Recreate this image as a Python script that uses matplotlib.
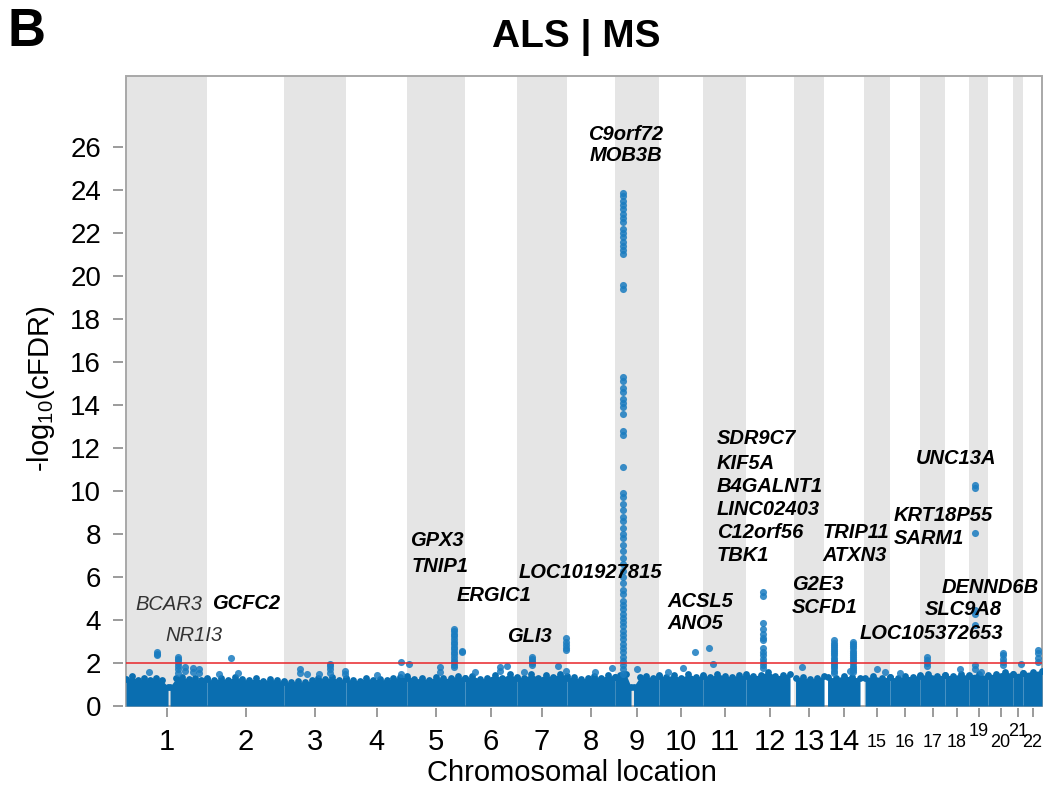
import numpy as np
import matplotlib
matplotlib.use("Agg")
import matplotlib.pyplot as plt
from matplotlib.patches import Rectangle

plt.rcParams['font.family'] = ['Liberation Sans', 'DejaVu Sans']
plt.rcParams['mathtext.fontset'] = 'custom'
plt.rcParams['mathtext.rm'] = 'Liberation Sans'

# chromosome spans on the plotting scale
chrom_names = [str(i) for i in range(1, 23)]
chrom_len = [81, 77, 62, 61, 58, 52, 50, 48, 44, 44, 43, 48, 30, 40, 26, 30, 25, 24, 19, 25, 10, 19]

# upper edge of the dense background cloud: (chrom, start, end, heights)
bg_segments = [
    (1, 0, 42, [1.25, 1.38, 1.2, 1.3, 1.22, 1.32, 1.2, 0.9]),
    (1, 44, 81, [0.9, 1.3, 1.35, 1.25, 1.3, 1.2, 1.3]),
    (2, 0, 77, [1.25, 1.2, 1.3, 1.22, 1.35, 1.25, 1.2, 1.28, 1.18, 1.25, 1.2, 1.15]),
    (3, 0, 62, [1.1, 1.12, 1.15, 1.1, 1.2, 1.3, 1.25, 1.35, 1.2, 1.3]),
    (4, 0, 61, [1.25, 1.2, 1.18, 1.3, 1.22, 1.25, 1.2, 1.28, 1.35, 1.3]),
    (5, 0, 58, [1.4, 1.25, 1.3, 1.22, 1.35, 1.28, 1.3, 1.4, 1.3]),
    (6, 0, 52, [1.3, 1.4, 1.25, 1.3, 1.45, 1.3, 1.5, 1.3]),
    (7, 0, 50, [1.35, 1.3, 1.5, 1.3, 1.45, 1.35, 1.5, 1.4]),
    (8, 0, 48, [1.3, 1.35, 1.25, 1.3, 1.4, 1.3, 1.45, 1.35]),
    (9, 0, 16, [1.35, 1.45, 1.5, 0.9]),
    (9, 18.5, 44, [0.9, 1.35, 1.4, 1.3, 1.45]),
    (10, 0, 44, [1.4, 1.35, 1.45, 1.3, 1.5, 1.35, 1.4]),
    (11, 0, 43, [1.45, 1.35, 1.5, 1.4, 1.35, 1.45, 1.4]),
    (12, 0, 44, [1.5, 1.4, 1.45, 1.6, 1.4, 1.45, 1.5]),
    (13, 1.5, 30, [1.3, 1.35, 1.25, 1.3, 1.4]),
    (14, 3.5, 36, [1.35, 1.3, 1.4, 1.35, 1.3]),
    (15, 1, 26, [1.3, 1.4, 1.3, 1.35]),
    (16, 0, 30, [1.35, 1.3, 1.4, 1.35, 1.45]),
    (17, 0, 25, [1.4, 1.5, 1.4, 1.45]),
    (18, 0, 24, [1.45, 1.4, 1.5, 1.4]),
    (19, 0, 19, [1.45, 1.5, 1.4]),
    (20, 0, 25, [1.45, 1.5, 1.6, 1.5]),
    (21, 0, 10, [1.5, 1.55]),
    (22, 0, 19, [1.55, 1.6, 1.65]),
]

# SNPs standing out of the cloud: (chrom, position in chrom, -log10 cFDR values)
hits = [
    (1, 23, [1.6]),
    (1, 31, [2.5, 2.42, 2.38]),
    (1, 52, [2.28, 2.2, 2.12, 2.0, 1.85, 1.7, 1.55]),
    (1, 59, [1.8, 1.62]),
    (1, 67, [1.75, 1.6]),
    (1, 73, [1.7, 1.55]),
    (2, 12, [1.5]),
    (2, 24, [2.25]),
    (2, 31, [1.55]),
    (3, 16, [1.7, 1.55]),
    (3, 23, [1.5]),
    (3, 35, [1.5]),
    (3, 46, [1.95, 1.85, 1.7, 1.55]),
    (3, 61, [1.65, 1.5]),
    (4, 31, [1.45]),
    (4, 55, [2.05, 1.5]),
    (5, 2, [1.95]),
    (5, 33, [1.8, 1.6]),
    (5, 47, [3.6, 3.48, 3.36, 3.24, 3.12, 3.0, 2.88, 2.76, 2.64, 2.52, 2.4, 2.28, 2.16, 2.04, 1.92, 1.8]),
    (5, 55, [2.55, 2.5]),
    (6, 10, [1.6]),
    (6, 35, [1.8, 1.65]),
    (6, 42, [1.85]),
    (7, 7, [1.6]),
    (7, 15, [2.3, 2.2, 2.1, 2.0, 1.9]),
    (7, 41, [1.85]),
    (7, 49, [3.15, 3.0, 2.85, 2.72, 2.6, 1.65]),
    (8, 28, [1.6]),
    (8, 45, [1.75]),
    (9, 8, [23.85, 23.7, 23.5, 23.3, 23.1, 22.9, 22.7, 22.5, 22.2, 22.0, 21.8, 21.6,
            21.4, 21.2, 21.0, 19.6, 19.4, 15.3, 15.1, 14.8, 14.6, 14.3, 14.1, 13.9,
            13.6, 12.8, 12.6, 11.1, 9.9, 9.7, 9.4, 9.1, 8.8, 8.6, 8.3, 8.0, 7.8, 7.5,
            7.2, 6.9, 6.6, 6.3, 6.0, 5.7, 5.4, 5.2, 4.9, 4.7, 4.5, 4.3, 4.1, 3.9, 3.7,
            3.5, 3.3, 3.1, 2.9, 2.7, 2.5, 2.3, 2.1, 1.9, 1.7, 1.5]),
    (9, 22, [1.7]),
    (10, 9, [1.6]),
    (10, 24, [1.75]),
    (10, 36, [2.5]),
    (11, 6, [2.7]),
    (11, 10, [1.95]),
    (12, 17, [5.3, 5.1, 3.85, 3.6, 3.35, 3.15, 3.05, 2.7, 2.5, 2.35, 2.2, 2.05, 1.9, 1.75]),
    (13, 8, [1.8]),
    (14, 10, [3.05, 2.95, 2.85, 2.75, 2.65, 2.55, 2.45, 2.35, 2.25, 2.15, 2.05, 1.95, 1.85, 1.75, 1.65, 1.55]),
    (14, 26, [1.65]),
    (14, 29, [2.98, 2.88, 2.78, 2.68, 2.58, 2.48, 2.38, 2.28, 2.18, 2.08, 1.98, 1.88, 1.78, 1.68, 1.58]),
    (15, 13, [1.7]),
    (15, 21, [1.6]),
    (16, 10, [1.55]),
    (17, 7, [2.3, 2.15, 2.0, 1.85]),
    (18, 15, [1.7]),
    (19, 6, [10.3, 10.15, 8.05, 4.45, 4.3, 3.75, 1.9, 1.7]),
    (19, 12, [1.6]),
    (20, 15, [2.45, 2.35, 2.2, 2.05, 1.9]),
    (21, 8, [1.95]),
    (22, 15, [2.6, 2.45, 2.25, 2.05]),
]

# gene annotations: (text, x, y, bold)
genes = [
    ("BCAR3", 9, 4.7, False), ("NR1I3", 39, 3.26, False), ("GCFC2", 86, 4.79, True),
    ("GPX3", 284, 7.72, True), ("TNIP1", 286, 6.47, True), ("ERGIC1", 331, 5.16, True),
    ("GLI3", 381, 3.21, True), ("LOC101927815", 393, 6.23, True),
    ("ACSL5", 541, 4.88, True), ("ANO5", 541, 3.86, True),
    ("SDR9C7", 591, 12.42, True), ("KIF5A", 591, 11.3, True), ("B4GALNT1", 591, 10.19, True),
    ("LINC02403", 591, 9.12, True), ("C12orf56", 591, 8.05, True), ("TBK1", 591, 6.98, True),
    ("TRIP11", 697, 8.05, True), ("ATXN3", 696, 6.98, True),
    ("UNC13A", 790, 11.53, True), ("KRT18P55", 768, 8.88, True), ("SARM1", 768, 7.81, True),
    ("G2E3", 666, 5.63, True), ("SCFD1", 666, 4.6, True),
    ("DENND6B", 816, 5.53, True), ("SLC9A8", 799, 4.47, True),
    ("LOC105372653", 734, 3.35, True),
]
top_genes = ["C9orf72", "MOB3B"]
threshold = 2.0

blue = '#0a6eb0'
starts = np.concatenate([[0], np.cumsum(chrom_len)[:-1]])
total = sum(chrom_len)
mids = starts + np.array(chrom_len) / 2.0

fig = plt.figure(figsize=(10.46, 7.9), dpi=100)
ax = fig.add_axes([0.1205, 0.1063, 0.8757, 0.7975])

# alternating chromosome bands
for i, (s, l) in enumerate(zip(starts, chrom_len)):
    if i % 2 == 0:
        ax.axvspan(s, s + l, color='#e5e5e5', lw=0, zorder=0)

# background cloud
for c, a, b, h in bg_segments:
    xs = starts[c - 1] + np.linspace(a, b, len(h))
    ax.fill_between(xs, 0, h, color=blue, lw=0, zorder=3)
    ax.scatter(xs, h, s=24, color=blue, lw=0, zorder=3)

# standout points
for c, pos, vals in hits:
    xs = np.full(len(vals), starts[c - 1] + pos)
    ax.scatter(xs, vals, s=26, color='#1a7cc0', alpha=0.85, lw=0, zorder=4)

ax.axhline(threshold, color='#e8262b', lw=1.3, alpha=0.85, zorder=5)

for name, x, y, bold in genes:
    ax.text(x, y, name, fontsize=14.5, style='italic',
            fontweight='bold' if bold else 'normal',
            color='black' if bold else '#333333', ha='left', va='center', zorder=6)
for k, name in enumerate(top_genes):
    ax.text(500, 26.56 - k * 0.98, name, fontsize=14.5, style='italic',
            fontweight='bold', ha='center', va='center', zorder=6)

ax.set_xlim(0, total)
ax.set_ylim(0, 29.3)

for sp in ax.spines.values():
    sp.set_color('none')
ax.spines['left'].set_position(('outward', 2.5))
ax.spines['bottom'].set_position(('outward', 1.5))
ax.add_patch(Rectangle((0, 0), 1, 1, transform=ax.transAxes, fill=False,
                       edgecolor='#a8a8a8', lw=1.4, zorder=2, clip_on=False))

ax.set_yticks(np.arange(0, 27, 2))
ax.tick_params(axis='y', length=7, width=1.1, color='#808080', pad=8.5, labelsize=20)
ax.set_xticks(mids)
ax.set_xticklabels([])
ax.tick_params(axis='x', length=6.5, width=1.1, color='#808080')

# chromosome numbers, smaller and staggered for the short ones
for k, (m, name) in enumerate(zip(mids, chrom_names)):
    if k < 14:
        dy, fs = -25.9, 21
    elif name in ("19", "21"):
        dy, fs = -18.0, 13
    else:
        dy, fs = -26.6, 13
    ax.annotate(name, xy=(m, 0), xycoords=('data', 'axes fraction'),
                xytext=(0, dy), textcoords='offset points',
                ha='center', va='center', fontsize=fs)

fig.text(0.547, 0.0215, "Chromosomal location", ha='center', va='center', fontsize=21)
fig.text(0.039, 0.508, "-log$_{10}$(cFDR)", ha='center', va='center', rotation=90, fontsize=21)
fig.text(0.551, 0.953, "ALS | MS", ha='center', va='center', fontsize=28, fontweight='bold')
fig.text(0.007, 0.96, "B", ha='left', va='center', fontsize=38, fontweight='bold')

fig.savefig('out.png', dpi=100)
